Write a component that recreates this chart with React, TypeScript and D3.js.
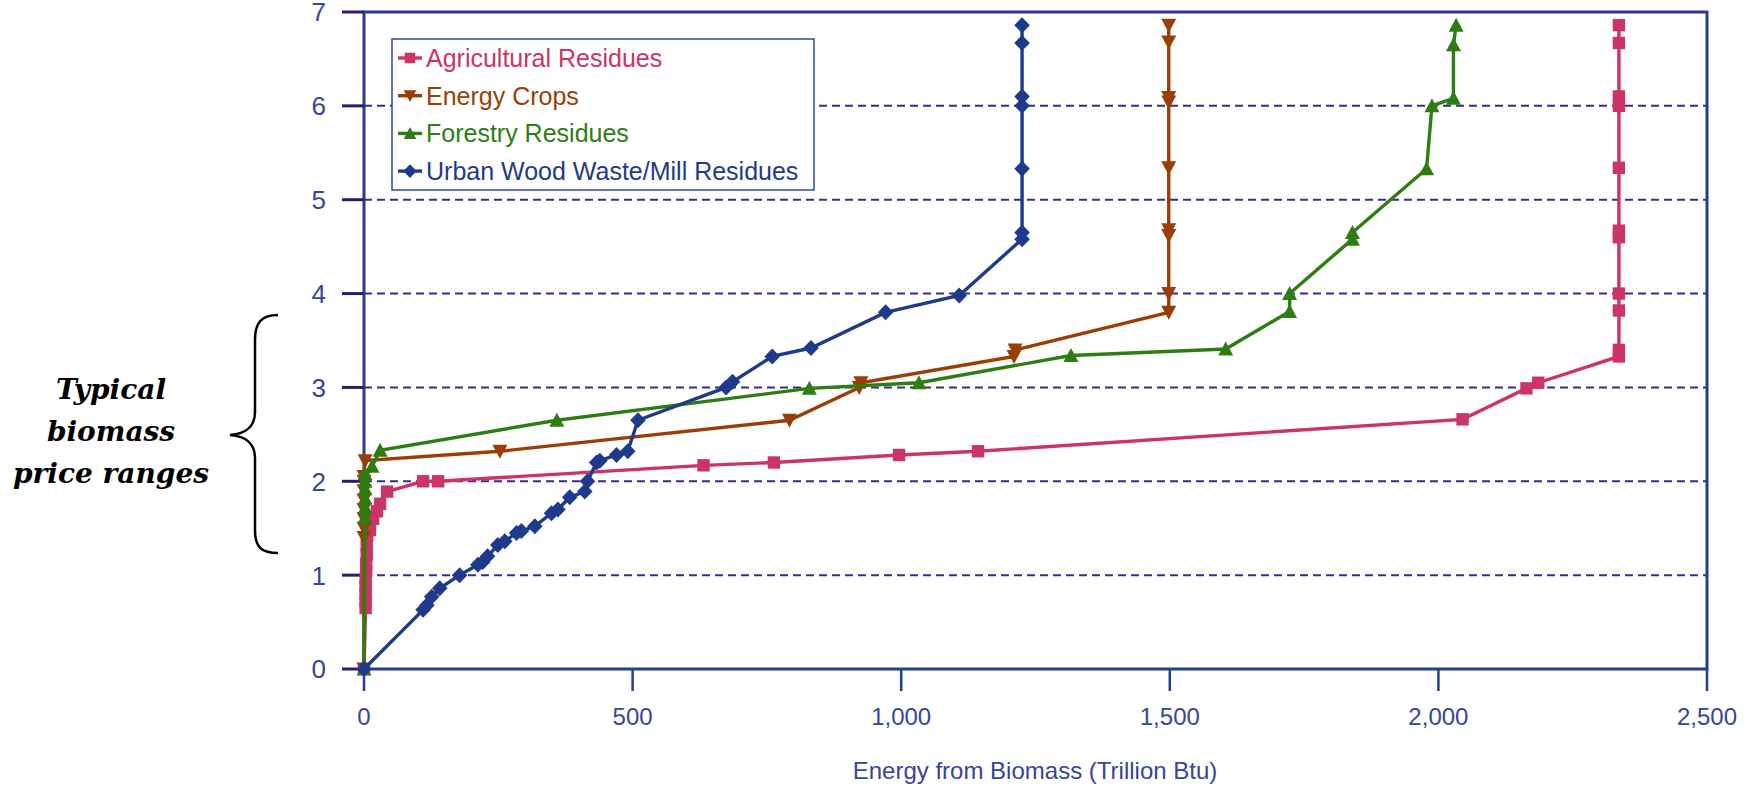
import React from "react";
import * as d3 from "d3";

const W = 1753;
const H = 790;

// Agricultural Residues (x: Trillion Btu, y: price)
const agricultural: [number, number][] = [
  [0, 0], [3, 0.65], [3, 0.72], [3, 0.8], [3, 0.88], [3, 0.96], [4, 1.04], [4, 1.12], [5, 1.22],
  [5, 1.32], [6, 1.42], [11, 1.48], [17, 1.6], [24, 1.68], [30, 1.76], [43, 1.89], [110, 2.0],
  [138, 2.0], [632, 2.17], [763, 2.2], [996, 2.28], [1143, 2.32], [2045, 2.66], [2164, 2.99],
  [2186, 3.05], [2336, 3.33], [2336, 3.4], [2336, 3.82], [2336, 4.0], [2336, 4.6], [2336, 4.67],
  [2336, 5.34], [2336, 6.0], [2336, 6.1], [2336, 6.67], [2336, 6.86],
];

// Energy Crops
const energyCrops: [number, number][] = [
  [0, 0], [0, 1.4], [0, 1.5], [0, 1.6], [0, 1.7], [0, 1.8], [0, 1.9], [0, 2.0], [0, 2.05],
  [2, 2.22], [253, 2.32], [792, 2.65], [922, 3.0], [925, 3.05], [1210, 3.33], [1212, 3.4],
  [1498, 3.8], [1498, 4.0], [1498, 4.62], [1498, 4.68], [1498, 5.34], [1498, 6.04], [1498, 6.09],
  [1498, 6.68], [1498, 6.86],
];

// Forestry Residues
const forestry: [number, number][] = [
  [0, 0], [2, 1.62], [2, 1.72], [2, 1.82], [2, 1.92], [2, 2.0], [2, 2.08], [15, 2.16], [30, 2.33],
  [359, 2.65], [829, 2.99], [1033, 3.05], [1316, 3.34], [1604, 3.41], [1723, 3.81], [1723, 4.0],
  [1840, 4.58], [1840, 4.65], [1978, 5.33], [1988, 6.0], [2028, 6.08], [2028, 6.65], [2033, 6.86],
];

// Urban Wood Waste/Mill Residues
const urbanWood: [number, number][] = [
  [0, 0], [110, 0.63], [117, 0.68], [126, 0.77], [141, 0.86], [178, 1.0], [212, 1.11], [221, 1.14],
  [230, 1.2], [249, 1.32], [262, 1.36], [284, 1.45], [293, 1.47], [318, 1.52], [349, 1.66],
  [361, 1.7], [383, 1.83], [411, 1.89], [416, 2.0], [433, 2.2], [439, 2.22], [470, 2.28],
  [491, 2.32], [510, 2.65], [674, 3.0], [686, 3.06], [760, 3.33], [832, 3.42], [971, 3.8],
  [1108, 3.98], [1225, 4.58], [1225, 4.65], [1225, 5.33], [1225, 6.0], [1225, 6.1], [1225, 6.67],
  [1225, 6.86],
];

const seriesNames = [
  "Agricultural Residues",
  "Energy Crops",
  "Forestry Residues",
  "Urban Wood Waste/Mill Residues",
];
const seriesColors = ["#CC3366", "#9C3D06", "#2E7D12", "#1F3A8C"];
const seriesShapes = ["square", "triDown", "triUp", "diamond"];
const seriesData = [agricultural, energyCrops, forestry, urbanWood];

const xTicks = [0, 500, 1000, 1500, 2000, 2500];
const yTicks = [0, 1, 2, 3, 4, 5, 6, 7];
const xTitle = "Energy from Biomass (Trillion Btu)";
const noteLines = ["Typical", "biomass", "price ranges"];

const shapePath: Record<string, string> = {
  square: "M-6.2,-6.2h12.4v12.4h-12.4z",
  triDown: "M-7.5,-6.5L7.5,-6.5L0,7.5Z",
  triUp: "M-7.5,6.5L7.5,6.5L0,-7.5Z",
  diamond: "M0,-8L7.8,0L0,8L-7.8,0Z",
};

export default function App() {
  const x = d3.scaleLinear().domain([0, 2500]).range([364, 1707]);
  const y = d3.scaleLinear().domain([0, 7]).range([669, 12]);
  const line = d3
    .line<[number, number]>()
    .x((d) => x(d[0]))
    .y((d) => y(d[1]));
  const fmt = d3.format(",");
  const sans = "'Liberation Sans', Arial, sans-serif";
  const labelColor = "#34469A";

  return (
    <svg
      width={W}
      height={H}
      style={{ position: "absolute", left: 0, top: 0, background: "#fff" }}
    >
      {/* gridlines */}
      {yTicks
        .filter((t) => t > 0 && t < 7)
        .map((t) => (
          <line
            key={"g" + t}
            x1={x(0)}
            x2={x(2500)}
            y1={y(t)}
            y2={y(t)}
            stroke="#3B2A85"
            strokeWidth={2}
            strokeDasharray="8,5"
          />
        ))}
      {/* frame */}
      <rect
        x={x(0)}
        y={y(7)}
        width={x(2500) - x(0)}
        height={y(0) - y(7)}
        fill="none"
        stroke="#233F90"
        strokeWidth={3}
      />
      {/* y ticks */}
      {yTicks.map((t) => (
        <g key={"yt" + t}>
          <line x1={x(0) - 22} x2={x(0)} y1={y(t)} y2={y(t)} stroke="#2E1A70" strokeWidth={3} />
          <text
            x={x(0) - 38}
            y={y(t)}
            dy="0.36em"
            textAnchor="end"
            fontFamily={sans}
            fontSize={26}
            fill={labelColor}
          >
            {t}
          </text>
        </g>
      ))}
      {/* x ticks */}
      {xTicks.map((t) => (
        <g key={"xt" + t}>
          <line x1={x(t)} x2={x(t)} y1={y(0)} y2={y(0) + 22} stroke="#233F90" strokeWidth={2.5} />
          <text
            x={x(t)}
            y={725}
            textAnchor="middle"
            fontFamily={sans}
            fontSize={24}
            fill={labelColor}
          >
            {fmt(t)}
          </text>
        </g>
      ))}
      <text x={1035} y={779} textAnchor="middle" fontFamily={sans} fontSize={24} fill={labelColor}>
        {xTitle}
      </text>

      {/* series */}
      {seriesData.map((data, i) => (
        <g key={"s" + i}>
          <path d={line(data) || ""} fill="none" stroke={seriesColors[i]} strokeWidth={3.4} />
          {data.map((d, j) => (
            <path
              key={j}
              d={shapePath[seriesShapes[i]]}
              transform={`translate(${x(d[0])},${y(d[1])})`}
              fill={seriesColors[i]}
            />
          ))}
        </g>
      ))}

      {/* legend */}
      <rect x={392} y={39} width={422} height={151} fill="#fff" stroke="#2B4A9A" strokeWidth={1.5} />
      {seriesNames.map((name, i) => {
        const cy = 58 + i * 37.7;
        return (
          <g key={"l" + i}>
            <line x1={398} x2={422} y1={cy} y2={cy} stroke={seriesColors[i]} strokeWidth={3.4} />
            <path
              d={shapePath[seriesShapes[i]]}
              transform={`translate(410,${cy}) scale(0.85)`}
              fill={seriesColors[i]}
            />
            <text x={426} y={cy + 9} fontFamily={sans} fontSize={25} fill={seriesColors[i]}>
              {name}
            </text>
          </g>
        );
      })}

      {/* annotation */}
      <path
        d="M278,315 C262,315 255,322 255,340 L255,412 C255,426 246,434 230,435 C246,436 255,444 255,458 L255,530 C255,548 262,553 278,553"
        fill="none"
        stroke="#000"
        strokeWidth={2.5}
      />
      {noteLines.map((t, i) => (
        <text
          key={"n" + i}
          x={111}
          y={399 + i * 42}
          textAnchor="middle"
          fontFamily="'DejaVu Serif', serif"
          fontStyle="italic"
          fontWeight="bold"
          fontSize={28}
          fill="#000"
        >
          {t}
        </text>
      ))}
    </svg>
  );
}
